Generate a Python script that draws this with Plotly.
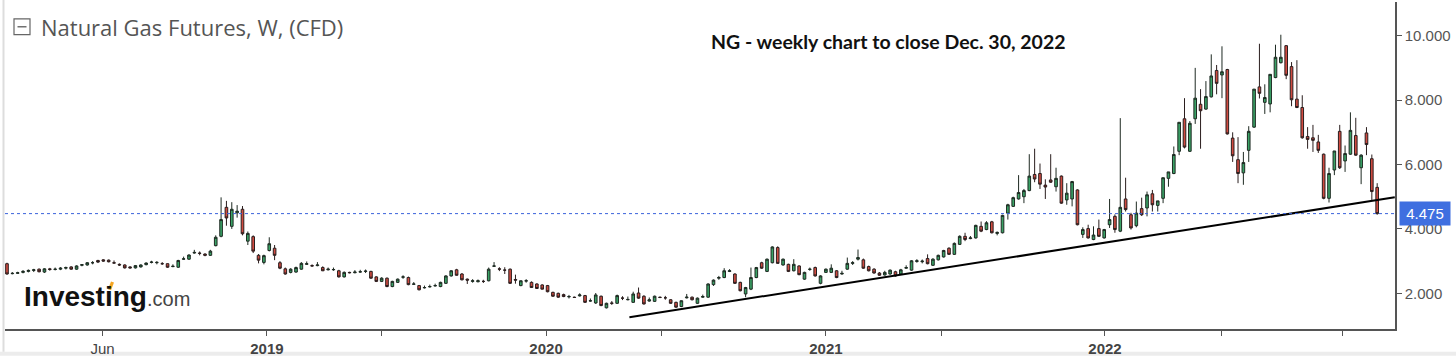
import pandas as pd
import plotly.graph_objects as go

# ---------------- data (weekly OHLC) ----------------
start_date = "2018-01-29"
opens = [
    2.92, 2.61, 2.62, 2.65, 2.68, 2.71, 2.75, 2.66, 2.76, 2.74, 2.75, 2.78, 2.82, 2.75, 2.87, 2.88, 2.95, 3.02, 3.04, 3.03,
    2.95, 2.90, 2.88, 2.82, 2.79, 2.82, 2.89, 2.96, 2.95, 2.92, 2.92, 2.83, 2.81, 3.06, 3.06, 3.25, 3.25, 3.22, 3.18, 3.48,
    3.77, 4.67, 4.08, 4.50, 4.61, 3.62, 3.76, 3.18, 2.96, 3.33, 3.40, 2.95, 2.76,
    2.65, 2.66, 2.75, 2.90, 2.86, 2.86, 2.80, 2.73, 2.73, 2.70, 2.51, 2.65, 2.64, 2.66, 2.68, 2.68, 2.51, 2.37, 2.47, 2.21,
    2.34, 2.50, 2.49, 2.28, 2.24, 2.17, 2.20, 2.23, 2.21, 2.31, 2.54, 2.73, 2.60, 2.44, 2.37, 2.36, 2.37, 2.39, 2.84, 2.76,
    2.72, 2.75, 2.43, 2.24, 2.38, 2.34, 2.29, 2.26, 2.24, 2.03, 2.00, 1.96,
    1.89, 1.88, 1.92, 1.93, 1.76, 1.70, 1.91, 1.55, 1.70, 1.69, 1.85, 1.80, 1.72, 2.01, 1.91, 1.76, 1.75, 1.88, 1.86, 1.80,
    1.72, 1.59, 1.86, 1.88, 1.69, 1.88, 1.88, 2.27, 2.47, 2.49, 2.68, 2.60, 2.34, 1.98, 2.13, 2.49, 2.95, 2.68, 2.95, 3.42,
    2.88, 2.90, 2.70, 2.85, 2.44, 2.74, 2.80, 2.31, 2.65, 2.65, 2.70, 2.60, 2.75,
    2.93, 3.06, 3.04, 2.83, 2.75, 2.63, 2.57, 2.60, 2.67, 2.60, 2.78, 2.72, 2.99, 2.98, 3.08, 2.87, 3.04, 3.13, 3.40, 3.21,
    3.52, 3.77, 3.70, 3.72, 4.08, 3.98, 4.22, 3.86, 3.88, 4.49, 4.70, 4.93, 5.00, 5.19, 5.69, 5.72, 5.36, 5.52, 5.31, 5.64,
    4.90, 4.93, 5.21, 3.83, 4.01, 3.67, 4.01, 3.72, 4.13, 4.39, 3.93, 4.93,
    4.44, 4.10, 4.63, 4.65, 5.09, 4.73, 4.95, 5.57, 5.72, 6.41, 7.42, 6.41, 7.42, 7.87, 7.72, 8.10, 8.92, 8.78, 8.95, 6.82,
    6.15, 5.74, 6.44, 7.16, 8.41, 7.93, 7.88, 8.70, 9.16, 9.69, 9.04, 8.03, 7.77, 6.87, 6.83, 6.70, 6.32, 4.95, 5.83, 7.03,
    6.11, 6.32, 6.90, 5.90, 6.98, 6.18, 5.29,
]
highs = [
    2.95, 2.66, 2.67, 2.72, 2.74, 2.76, 2.77, 2.78, 2.79, 2.80, 2.81, 2.83, 2.84, 2.87, 2.90, 2.97, 3.00, 3.04, 3.06, 3.05,
    3.02, 2.93, 2.90, 2.84, 2.88, 2.90, 2.96, 3.01, 3.00, 2.97, 2.93, 2.90, 3.04, 3.14, 3.21, 3.35, 3.30, 3.24, 3.35, 3.80,
    4.98, 4.87, 4.83, 4.74, 4.71, 3.92, 3.80, 3.22, 3.20, 3.74, 3.50, 3.00, 2.80,
    2.78, 2.83, 2.97, 2.99, 2.90, 2.97, 2.84, 2.80, 2.80, 2.73, 2.68, 2.67, 2.72, 2.73, 2.74, 2.70, 2.53, 2.50, 2.49, 2.39,
    2.46, 2.56, 2.52, 2.35, 2.26, 2.24, 2.27, 2.30, 2.36, 2.56, 2.72, 2.76, 2.63, 2.46, 2.44, 2.43, 2.42, 2.80, 2.97, 2.81,
    2.81, 2.77, 2.58, 2.40, 2.44, 2.37, 2.31, 2.28, 2.26, 2.05, 2.02, 1.99,
    1.95, 1.90, 2.00, 1.95, 1.84, 2.01, 1.93, 1.71, 1.76, 1.96, 1.91, 1.90, 2.05, 2.18, 1.94, 1.87, 1.93, 1.90, 1.92, 1.82,
    1.74, 1.78, 1.98, 1.90, 1.87, 1.96, 2.31, 2.43, 2.54, 2.78, 2.75, 2.62, 2.36, 2.20, 2.80, 2.82, 2.98, 3.08, 3.46, 3.46,
    3.08, 2.92, 3.06, 2.87, 2.67, 2.80, 2.83, 2.56, 2.77, 2.90, 2.72, 2.70, 3.11,
    3.00, 3.36, 3.08, 2.86, 2.78, 2.66, 2.70, 2.74, 2.70, 2.76, 2.87, 3.03, 3.06, 3.05, 3.21, 3.09, 3.20, 3.35, 3.43, 3.58,
    3.80, 3.88, 3.78, 4.13, 4.23, 4.24, 4.25, 3.92, 4.44, 4.78, 5.00, 5.67, 5.24, 6.32, 6.49, 6.03, 5.54, 6.32, 5.90, 5.66,
    5.42, 5.49, 5.23, 4.05, 4.13, 4.08, 4.29, 4.00, 4.93, 4.45, 7.44, 5.59,
    4.50, 4.85, 4.97, 5.16, 5.21, 4.87, 5.59, 5.77, 6.56, 7.31, 8.06, 7.35, 9.00, 8.34, 8.59, 9.42, 9.09, 9.67, 8.97, 7.00,
    6.85, 6.39, 7.19, 8.34, 9.75, 8.49, 8.80, 9.72, 10.03, 9.71, 9.18, 9.24, 8.15, 7.16, 7.23, 6.92, 6.34, 5.90, 6.42, 7.23,
    6.59, 7.62, 7.45, 6.32, 7.16, 6.31, 5.42,
]
lows = [
    2.58, 2.59, 2.60, 2.62, 2.65, 2.66, 2.65, 2.63, 2.70, 2.71, 2.72, 2.74, 2.73, 2.73, 2.84, 2.86, 2.90, 2.94, 2.98, 2.96,
    2.93, 2.85, 2.77, 2.77, 2.77, 2.80, 2.87, 2.93, 2.90, 2.88, 2.79, 2.81, 2.79, 3.04, 3.04, 3.23, 3.18, 3.15, 3.16, 3.46,
    3.74, 4.10, 4.00, 4.35, 3.80, 3.50, 3.25, 2.93, 2.90, 3.30, 3.03, 2.75, 2.58,
    2.62, 2.64, 2.73, 2.88, 2.83, 2.84, 2.69, 2.71, 2.70, 2.49, 2.49, 2.62, 2.62, 2.64, 2.63, 2.45, 2.35, 2.35, 2.19, 2.19,
    2.32, 2.45, 2.25, 2.26, 2.09, 2.15, 2.18, 2.21, 2.19, 2.29, 2.52, 2.55, 2.40, 2.29, 2.33, 2.34, 2.32, 2.37, 2.82, 2.69,
    2.60, 2.29, 2.30, 2.22, 2.33, 2.17, 2.14, 2.12, 2.03, 1.89, 1.86, 1.88,
    1.84, 1.86, 1.90, 1.70, 1.74, 1.67, 1.60, 1.53, 1.64, 1.67, 1.79, 1.78, 1.70, 1.83, 1.65, 1.74, 1.73, 1.85, 1.80, 1.67,
    1.55, 1.57, 1.84, 1.78, 1.67, 1.86, 1.86, 2.23, 2.42, 2.47, 2.66, 2.29, 2.06, 1.88, 2.10, 2.47, 2.76, 2.66, 2.93, 2.92,
    2.86, 2.66, 2.68, 2.56, 2.42, 2.70, 2.52, 2.28, 2.63, 2.63, 2.47, 2.58, 2.73,
    2.88, 3.02, 2.76, 2.68, 2.61, 2.54, 2.55, 2.58, 2.52, 2.58, 2.76, 2.70, 2.95, 2.93, 2.90, 2.85, 3.02, 3.11, 3.19, 3.19,
    3.50, 3.62, 3.68, 3.70, 3.90, 3.96, 3.86, 3.80, 3.86, 4.29, 4.68, 4.91, 4.80, 5.17, 5.45, 5.24, 4.93, 5.43, 5.16, 4.78,
    4.75, 4.70, 4.11, 3.72, 3.70, 3.65, 3.75, 3.70, 4.03, 3.88, 3.90, 4.54,
    3.98, 4.05, 4.40, 4.39, 4.54, 4.54, 4.80, 5.31, 5.70, 6.29, 6.50, 6.39, 7.26, 6.49, 7.70, 8.08, 8.18, 8.06, 6.93, 6.08,
    5.42, 5.37, 6.08, 7.14, 8.05, 7.57, 7.62, 8.68, 9.14, 8.65, 7.81, 7.75, 6.80, 6.49, 6.39, 6.36, 4.92, 4.82, 5.67, 5.86,
    5.77, 6.30, 6.27, 5.39, 6.29, 4.90, 4.44,
]
closes = [
    2.60, 2.62, 2.64, 2.68, 2.71, 2.73, 2.67, 2.76, 2.74, 2.75, 2.78, 2.80, 2.75, 2.85, 2.89, 2.95, 2.95, 2.97, 3.00, 2.98,
    2.94, 2.88, 2.79, 2.79, 2.86, 2.88, 2.94, 2.97, 2.96, 2.92, 2.81, 2.84, 3.02, 3.07, 3.19, 3.27, 3.24, 3.18, 3.31, 3.74,
    4.29, 4.34, 4.61, 4.55, 3.85, 3.86, 3.31, 3.03, 3.17, 3.54, 3.18, 2.78, 2.60,
    2.75, 2.80, 2.93, 2.92, 2.85, 2.88, 2.70, 2.75, 2.74, 2.51, 2.65, 2.64, 2.66, 2.67, 2.69, 2.47, 2.37, 2.47, 2.21, 2.37,
    2.44, 2.51, 2.27, 2.29, 2.11, 2.18, 2.21, 2.24, 2.34, 2.54, 2.70, 2.56, 2.42, 2.41, 2.39, 2.39, 2.37, 2.75, 2.85, 2.75,
    2.72, 2.31, 2.41, 2.39, 2.39, 2.18, 2.15, 2.13, 2.05, 1.91, 1.88, 1.90,
    1.90, 1.87, 1.95, 1.72, 1.77, 1.95, 1.62, 1.69, 1.69, 1.93, 1.85, 1.81, 1.98, 1.85, 1.67, 1.80, 1.91, 1.87, 1.86, 1.69,
    1.57, 1.77, 1.88, 1.80, 1.85, 1.90, 2.29, 2.41, 2.49, 2.70, 2.70, 2.31, 2.08, 2.18, 2.49, 2.80, 2.78, 3.06, 3.44, 2.93,
    3.06, 2.68, 2.90, 2.58, 2.65, 2.75, 2.54, 2.54, 2.75, 2.78, 2.49, 2.62, 2.93,
    2.95, 3.11, 2.78, 2.70, 2.63, 2.56, 2.65, 2.72, 2.54, 2.73, 2.80, 3.01, 3.01, 3.00, 2.92, 3.06, 3.18, 3.33, 3.21, 3.55,
    3.77, 3.67, 3.72, 4.11, 3.93, 4.19, 3.88, 3.89, 4.42, 4.75, 4.97, 5.13, 5.19, 5.64, 5.55, 5.39, 5.30, 5.45, 5.57, 4.80,
    5.11, 5.47, 4.13, 3.98, 3.72, 3.81, 3.77, 3.98, 4.29, 3.98, 4.67, 4.60,
    4.03, 4.49, 4.44, 5.06, 4.75, 4.87, 5.59, 5.77, 6.31, 7.31, 6.54, 7.28, 8.06, 7.67, 8.11, 8.75, 8.52, 8.88, 6.95, 6.27,
    5.72, 6.06, 7.03, 8.34, 8.21, 8.08, 8.80, 9.33, 9.33, 8.77, 8.01, 7.77, 6.83, 6.78, 6.75, 6.44, 4.95, 5.72, 6.42, 5.90,
    6.34, 7.06, 6.29, 6.29, 6.62, 5.16, 4.475,
]
last_price = 4.475

# support trend line drawn on the chart (two anchor points)
trend_dates = ["2020-04-22", "2023-01-18"]
trend_values = [1.26, 4.98]

y_tick_vals = [2, 4, 6, 8, 10]
x_tick_dates = ["2018-06-03", "2019-01-04", "2019-06-03", "2020-01-04", "2020-06-03",
                "2021-01-04", "2021-06-04", "2022-01-04", "2022-06-05", "2022-11-10"]
x_tick_text = ["Jun", "<b>2019</b>", "", "<b>2020</b>", "", "<b>2021</b>", "", "<b>2022</b>", "", ""]

dates = pd.date_range(start_date, periods=len(closes), freq="7D")

# ---------------- figure ----------------
W, H = 1456, 359
L, R, T, B = 5, 61, 2, 27
pw, ph = W - L - R, H - T - B


def px(x):
    return (x - L) / pw


def py(y):
    return (H - B - y) / ph


fig = go.Figure()
fig.add_trace(go.Candlestick(
    x=dates, open=opens, high=highs, low=lows, close=closes,
    increasing=dict(fillcolor="#3aa266", line=dict(color="#1e2a22", width=1)),
    decreasing=dict(fillcolor="#d04b41", line=dict(color="#2a1e1e", width=1)),
    whiskerwidth=0, showlegend=False, hoverinfo="skip",
))
fig.add_trace(go.Scatter(
    x=pd.to_datetime(trend_dates), y=trend_values, mode="lines",
    line=dict(color="#000000", width=2), showlegend=False, hoverinfo="skip",
))

x_left = pd.Timestamp(start_date) - pd.Timedelta(days=2.6)
x_right = pd.Timestamp(start_date) + pd.Timedelta(days=1815.3)

fig.update_layout(
    width=W, height=H,
    margin=dict(l=L, r=R, t=T, b=B, pad=0),
    paper_bgcolor="white", plot_bgcolor="white",
    font=dict(family="Liberation Sans, Arial, sans-serif", color="#444"),
    xaxis=dict(
        type="date", range=[x_left, x_right], rangeslider=dict(visible=False),
        showgrid=False, zeroline=False, showline=True, linecolor="#555", linewidth=1.5,
        ticks="outside", ticklen=5, tickcolor="#555", tickwidth=1,
        tickvals=pd.to_datetime(x_tick_dates), ticktext=x_tick_text,
        tickfont=dict(family="Liberation Sans Narrow, Arial Narrow, sans-serif", size=15, color="#444"),
    ),
    yaxis=dict(
        side="right", range=[0.892, 11.046], showgrid=False, zeroline=False,
        showline=True, linecolor="#555", linewidth=1.5,
        ticks="outside", ticklen=5, tickcolor="#555", tickwidth=1,
        tickvals=y_tick_vals, tickformat=".3f",
        tickfont=dict(family="Liberation Sans, Arial, sans-serif", size=15, color="#555"),
    ),
)

shapes = [
    # last price dotted line
    dict(type="line", xref="paper", yref="y", x0=0, x1=1, y0=last_price, y1=last_price,
         line=dict(color="#3a62dc", width=1, dash="dot")),
    # icon box
    dict(type="rect", xref="paper", yref="paper", x0=px(14), x1=px(30), y0=py(35), y1=py(19),
         line=dict(color="#666", width=1.2), fillcolor="white"),
    dict(type="line", xref="paper", yref="paper", x0=px(17.5), x1=px(26.5), y0=py(27), y1=py(27),
         line=dict(color="#666", width=1.4)),
    # page borders
    dict(type="rect", xref="paper", yref="paper", x0=px(0), x1=px(1456), y0=py(359), y1=py(355),
         line=dict(width=0), fillcolor="#ececec", layer="below"),
    dict(type="line", xref="paper", yref="paper", x0=px(3.5), x1=px(3.5), y0=py(355), y1=py(0),
         line=dict(color="#dddddd", width=2)),
    # orange accent of logo
    dict(type="path", xref="paper", yref="paper",
         path=f"M {px(108)} {py(292)} L {px(111)} {py(284)} L {px(114)} {py(285)} L {px(111)} {py(293)} Z",
         line=dict(width=0), fillcolor="#f5a623"),
]
fig.update_layout(shapes=shapes)

annotations = [
    dict(text="Natural Gas Futures, W, (CFD)", xref="paper", yref="paper", x=px(39), y=py(27),
         xanchor="left", yanchor="middle", showarrow=False,
         font=dict(family="Open Sans, sans-serif", size=22, color="#555")),
    dict(text="<b>NG - weekly chart to close Dec. 30, 2022</b>", xref="paper", yref="paper",
         x=px(888), y=py(42), xanchor="center", yanchor="middle", showarrow=False,
         font=dict(family="Lato, sans-serif", size=19.5, color="#111")),
    dict(text="<b>Investing</b>", xref="paper", yref="paper", x=px(22), y=py(299),
         xanchor="left", yanchor="middle", showarrow=False,
         font=dict(family="Liberation Sans, Arial, sans-serif", size=28, color="#111")),
    dict(text=".com", xref="paper", yref="paper", x=px(145), y=py(302),
         xanchor="left", yanchor="middle", showarrow=False,
         font=dict(family="Liberation Sans, Arial, sans-serif", size=20, color="#444")),
    dict(text="4.475", xref="paper", yref="y", x=1, y=last_price, xshift=4,
         xanchor="left", yanchor="middle", showarrow=False, width=48, height=21,
         bgcolor="#3f6fe0", font=dict(family="Liberation Sans, Arial, sans-serif", size=15, color="white")),
]
fig.update_layout(annotations=annotations)

fig.write_html(
    "out.html",
    config={"displayModeBar": False},
    post_script="document.body.style.margin='0';document.body.style.overflow='hidden';",
)
